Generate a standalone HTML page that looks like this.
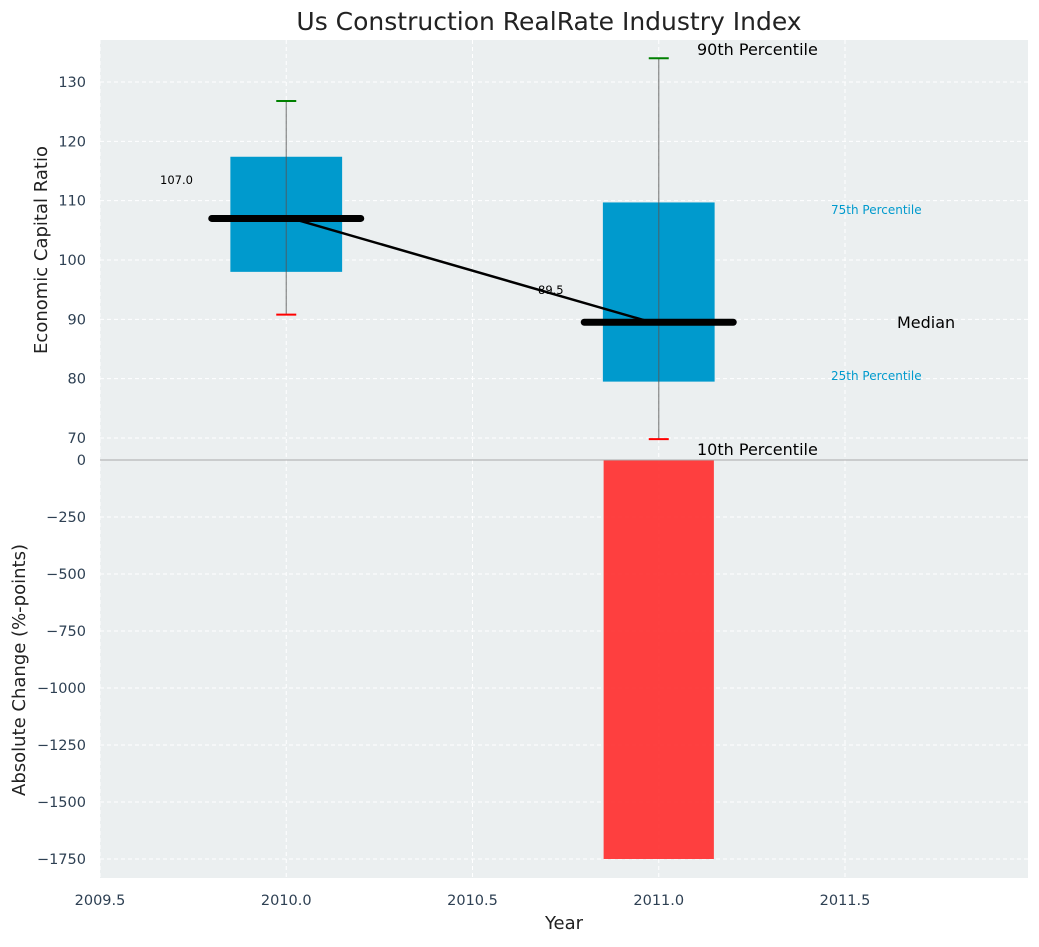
<!DOCTYPE html>
<html><head><meta charset="utf-8"><style>
body{margin:0;background:#fff;}
svg text{font-family:"DejaVu Sans","Liberation Sans",sans-serif;}
</style></head><body>
<svg id="chart" width="1039" height="942" xmlns="http://www.w3.org/2000/svg">
<text x="549" y="30" font-size="25" text-anchor="middle" fill="#222">Us Construction RealRate Industry Index</text>
<rect x="100" y="40" width="928" height="420" fill="#ebeff0"/>
<rect x="100" y="460" width="928" height="418" fill="#ebeff0"/>
<g id="grid"></g>
<g id="marks"></g>
<g id="axes"></g>
<text transform="translate(47,250) rotate(-90)" font-size="18" text-anchor="middle" fill="#222">Economic Capital Ratio</text>
<text transform="translate(25,670) rotate(-90)" font-size="18" text-anchor="middle" fill="#222">Absolute Change (%-points)</text>
<text x="564" y="929" font-size="18" text-anchor="middle" fill="#222">Year</text>
</svg>
<script>
const years=[2010,2011];
const p10=[90.8,69.8];
const p25=[98,79.5];
const medians=[107,89.5];
const p75=[117.4,109.7];
const p90=[126.8,134];
const changes=[0,-1750];
const xTicks=[2009.5,2010.0,2010.5,2011.0,2011.5];
const topTicks=[70,80,90,100,110,120,130];
const botTicks=[0,-250,-500,-750,-1000,-1250,-1500,-1750];

const NS="http://www.w3.org/2000/svg";
const X=v=>100+(v-2009.5)*372.5;
const YT=v=>82+(130-v)*5.933;
const YB=v=>460+v*(-399/1750);
function el(t,a,p){const e=document.createElementNS(NS,t);for(const k in a)e.setAttribute(k,a[k]);document.getElementById(p).appendChild(e);return e;}
xTicks.forEach(t=>{
 const l=el('line',{x1:X(t),x2:X(t),y1:40,y2:878,stroke:'#fff','stroke-dasharray':'4,3','stroke-width':1},'grid');
 
 
 const tx=el('text',{x:X(t),y:905,'font-size':14.5,'text-anchor':'middle',fill:'#2e4053'},'axes');tx.textContent=t.toFixed(1);
 
 
});
topTicks.forEach(t=>{
 const l=el('line',{x1:100,x2:1028,y1:YT(t),y2:YT(t),stroke:'#fff','stroke-dasharray':'4,3'},'grid');
 
 
 const tx=el('text',{x:86,y:YT(t)+5,'font-size':14.5,'text-anchor':'end',fill:'#2e4053'},'axes');tx.textContent=t;
 
 
});
botTicks.forEach(t=>{
 const l=el('line',{x1:100,x2:1028,y1:YB(t),y2:YB(t),stroke:'#fff','stroke-dasharray':'4,3'},'grid');
 
 
 const tx=el('text',{x:86,y:YB(t)+5,'font-size':14.5,'text-anchor':'end',fill:'#2e4053'},'axes');tx.textContent=t<0?'\u2212'+Math.abs(t):t;
 
 
});
const sep=el('line',{x1:100,x2:1028,y1:460,y2:460,stroke:'#aaa','stroke-width':1},'axes');


years.forEach((y,i)=>{
 const b=el('rect',{x:X(y-0.15),y:YT(p75[i]),width:X(y+0.15)-X(y-0.15),height:YT(p25[i])-YT(p75[i]),fill:'#009acd'},'marks');
 
 
 const w=el('line',{x1:X(y),x2:X(y),y1:YT(p90[i]),y2:YT(p10[i]),stroke:'#555','stroke-opacity':0.7,'stroke-width':1.2},'marks');
 
 
 const c1=el('line',{x1:X(y)-10,x2:X(y)+10,y1:YT(p90[i]),y2:YT(p90[i]),stroke:'green','stroke-width':2},'marks');
 
 
 const c2=el('line',{x1:X(y)-10,x2:X(y)+10,y1:YT(p10[i]),y2:YT(p10[i]),stroke:'red','stroke-width':2},'marks');
 
 
 const m=el('line',{x1:X(y-0.2),x2:X(y+0.2),y1:YT(medians[i]),y2:YT(medians[i]),stroke:'#000','stroke-width':7,'stroke-linecap':'round'},'marks');
 
 
 if(changes[i]!==0){
  const r=el('rect',{x:X(y-0.148),y:460,width:X(y+0.148)-X(y-0.148),height:YB(changes[i])-460,fill:'#ff3030','fill-opacity':0.92},'marks');
  
  
 }
});
const tr=el('line',{x1:X(years[0]+0.015),y1:YT(medians[0]),x2:X(years[1]-0.02),y2:YT(medians[1]),stroke:'#000','stroke-width':2.5},'marks');


const l1=el('text',{x:160,y:184,'font-size':11.5,fill:'#000'},'marks');l1.textContent=medians[0].toFixed(1);


const l2=el('text',{x:538,y:294,'font-size':11.5,fill:'#000'},'marks');l2.textContent=medians[1].toFixed(1);


const ann=[[697,55,'90th Percentile',16,'#000','p90-annotation'],[697,455,'10th Percentile',16,'#000','p10-annotation'],[897,328,'Median',16,'#000','median-annotation'],[831,214,'75th Percentile',12,'#009acd','p75-annotation'],[831,380,'25th Percentile',12,'#009acd','p25-annotation']];
ann.forEach(a=>{const t=el('text',{x:a[0],y:a[1],'font-size':a[3],fill:a[4]},'marks');t.textContent=a[2];
 
 });
</script>
</body></html>
